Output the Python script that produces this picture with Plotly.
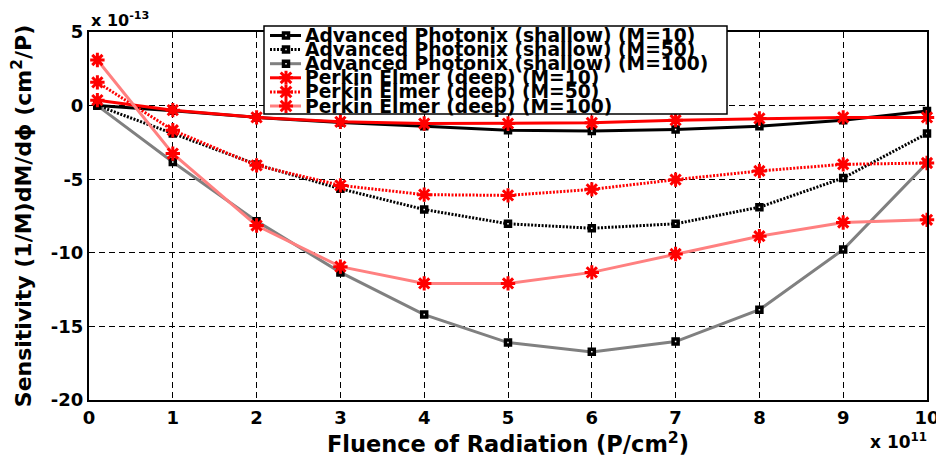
import plotly.graph_objects as go

# ---------------- data (x in units of 1e11 P/cm^2, y in units of 1e-13 cm^2/P) -------------
fluence = [0.1, 1, 2, 3, 4, 5, 6, 7, 8, 9, 10]
ap_m10 = [0.0, -0.35, -0.8, -1.15, -1.4, -1.67, -1.72, -1.62, -1.4, -0.99, -0.37]
ap_m50 = [0.0, -1.9, -4.0, -5.65, -7.06, -8.03, -8.33, -8.03, -6.9, -4.92, -1.9]
ap_m100 = [0.0, -3.83, -7.85, -11.33, -14.2, -16.1, -16.73, -16.03, -13.87, -9.78, -3.9]
pe_m10 = [0.37, -0.31, -0.8, -1.1, -1.22, -1.22, -1.17, -0.99, -0.87, -0.8, -0.8]
pe_m50 = [1.58, -1.67, -4.06, -5.42, -6.05, -6.1, -5.69, -5.03, -4.44, -3.99, -3.9]
pe_m100 = [3.1, -3.26, -8.15, -10.94, -12.08, -12.08, -11.33, -10.08, -8.87, -7.94, -7.76]

series_names = [
    "Advanced Photonix (shallow) (M=10)",
    "Advanced Photonix (shallow) (M=50)",
    "Advanced Photonix (shallow) (M=100)",
    "Perkin Elmer (deep) (M=10)",
    "Perkin Elmer (deep) (M=50)",
    "Perkin Elmer (deep) (M=100)",
]
series_values = [ap_m10, ap_m50, ap_m100, pe_m10, pe_m50, pe_m100]

x_ticks = [0, 1, 2, 3, 4, 5, 6, 7, 8, 9, 10]
x_tick_labels = ["0", "1", "2", "3", "4", "5", "6", "7", "8", "9", "10"]
y_ticks = [-20, -15, -10, -5, 0, 5]
y_tick_labels = ["-20", "-15", "-10", "-5", "0", "5"]

# ---------------- styles ----------------
FONT = "DejaVu Sans"
DOT = "2px,1.5px"
line_colors = ["#000000", "#000000", "#808080", "#ff0000", "#ff0000", "#ff8080"]
line_dashes = ["solid", DOT, "solid", "solid", DOT, "solid"]
kinds = ["sq", "sq", "sq", "ast", "ast", "ast"]
marker_colors = ["#000000", "#000000", "#000000", "#ff0000", "#ff0000", "#ff0000"]

OFF = 8  # default page body margin of the browser
FIG_W, FIG_H = 944 - OFF, 457 - OFF
M_L, M_R, M_T, M_B = 81, 17, 24, 57
PW = FIG_W - M_L - M_R
PH = FIG_H - M_T - M_B


def px_x(px):  # screen pixel -> paper fraction
    return (px - OFF - M_L) / PW


def px_y(py):
    return (FIG_H - M_B - (py - OFF)) / PH


fig = go.Figure()
for name, vals, lc, ld, kind, mc in zip(series_names, series_values, line_colors,
                                         line_dashes, kinds, marker_colors):
    if kind == "sq":
        marker = dict(symbol="square", size=5, color="white",
                      line=dict(color=mc, width=3.5))
    else:
        marker = dict(symbol="asterisk-open", size=12, color=mc,
                      line=dict(color=mc, width=3))
    fig.add_trace(go.Scatter(
        x=fluence, y=vals, name=name, mode="lines+markers",
        line=dict(color=lc, width=3, dash=ld), marker=marker,
        cliponaxis=False, showlegend=False,
    ))

# ---------------- custom compact legend (drawn as layout decorations) ----------------
LEG_L, LEG_T, LEG_R, LEG_B = 264, 26, 727, 114
ROW0, ROW_H = 35.5, 14.1
SAMPLE_X0, SAMPLE_X1, SAMPLE_MX, TEXT_X = 270, 301, 286, 303
ax_anchor = px_x(LEG_L)
ay_anchor = px_y(LEG_T)

shapes = []
pix = dict(xref="paper", yref="paper", xsizemode="pixel", ysizemode="pixel",
           xanchor=ax_anchor, yanchor=ay_anchor, layer="above")
shapes.append(dict(type="rect", x0=0, x1=LEG_R - LEG_L, y0=0, y1=-(LEG_B - LEG_T),
                   fillcolor="white", line=dict(color="black", width=1.5), **pix))
annotations = []
for i, (name, lc, ld, kind, mc) in enumerate(zip(series_names, line_colors, line_dashes,
                                                 kinds, marker_colors)):
    cy = -(ROW0 + i * ROW_H - LEG_T)
    shapes.append(dict(type="line", x0=SAMPLE_X0 - LEG_L, x1=SAMPLE_X1 - LEG_L, y0=cy, y1=cy,
                       line=dict(color=lc, width=3, dash=ld), **pix))
    cx = SAMPLE_MX - LEG_L
    if kind == "sq":
        shapes.append(dict(type="rect", x0=cx - 2.5, x1=cx + 2.5, y0=cy - 2.5, y1=cy + 2.5,
                           fillcolor="white", line=dict(color=mc, width=3.5), **pix))
    else:
        r, d = 7, 5.3
        path = (f"M{cx - r},{cy} L{cx + r},{cy} M{cx},{cy - r} L{cx},{cy + r} "
                f"M{cx - d},{cy - d} L{cx + d},{cy + d} M{cx - d},{cy + d} L{cx + d},{cy - d}")
        shapes.append(dict(type="path", path=path, line=dict(color=mc, width=3), **pix))
    annotations.append(dict(
        text=name, xref="paper", yref="paper", x=px_x(TEXT_X), y=px_y(ROW0 + i * ROW_H),
        xanchor="left", yanchor="middle", showarrow=False,
        font=dict(family=FONT, size=18.7, color="black", weight="bold"),
    ))

# exponent labels
annotations.append(dict(
    text="x 10<sup>-13</sup>", xref="paper", yref="paper", x=0, y=1, xanchor="left",
    yanchor="bottom", yshift=0, showarrow=False,
    font=dict(family=FONT, size=16, color="black", weight="bold"),
))
annotations.append(dict(
    text="x 10<sup>11</sup>", xref="paper", yref="paper", x=1, y=0, xanchor="right",
    yanchor="top", yshift=-28, xshift=2, showarrow=False,
    font=dict(family=FONT, size=17, color="black", weight="bold"),
))

axis_common = dict(
    showline=True, mirror=True, linecolor="black", linewidth=2,
    showgrid=True, gridcolor="black", gridwidth=1, griddash="6px,4px",
    zeroline=False, ticks="",
    tickfont=dict(family=FONT, size=18, color="black", weight="bold"),
)

fig.update_layout(
    width=FIG_W, height=FIG_H,
    margin=dict(l=M_L, r=M_R, t=M_T, b=M_B, autoexpand=False),
    paper_bgcolor="white", plot_bgcolor="white",
    showlegend=False,
    xaxis=dict(range=[0, 10], tickvals=x_ticks, ticktext=x_tick_labels,
               title=dict(text="Fluence of Radiation (P/cm<sup>2</sup>)", standoff=6,
                          font=dict(family=FONT, size=22.5, color="black", weight="bold")),
               **axis_common),
    yaxis=dict(range=[-20, 5], tickvals=y_ticks, ticktext=y_tick_labels,
               title=dict(text="Sensitivity (1/M)dM/d\u03d5 (cm<sup>2</sup>/P)", standoff=13,
                          font=dict(family=FONT, size=22, color="black", weight="bold")),
               **axis_common),
    shapes=shapes,
    annotations=annotations,
)

fig.write_html("out.html")
